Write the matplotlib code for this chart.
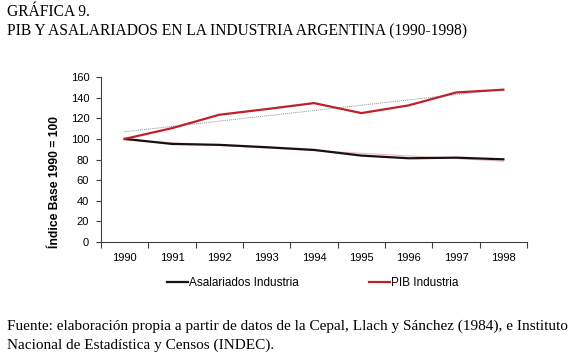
import numpy as np
import matplotlib.pyplot as plt

years = ['1990', '1991', '1992', '1993', '1994', '1995', '1996', '1997', '1998']
asalariados = [100, 95.1, 94.2, 91.9, 89.3, 83.8, 81.2, 81.8, 80.2]
pib = [100, 110.4, 123.4, 128.9, 134.7, 125.0, 132.5, 145.0, 147.7]

fig = plt.figure(figsize=(5.75, 3.56), dpi=100)
ax = fig.add_axes([0.1757, 0.3202, 0.7409, 0.4635])

x = np.arange(len(years))

# linear trend lines
t_pib = np.polyval(np.polyfit(x, pib, 1), x)
t_asa = np.polyval(np.polyfit(x, asalariados, 1), x)
ax.plot(x, t_pib, color='#909090', lw=0.7, ls=(0, (1, 1)))
ax.plot(x, t_asa, color='#e8b8bc', lw=0.8)

l1, = ax.plot(x, asalariados, color='#1a1010', lw=1.6)
l2, = ax.plot(x, pib, color='#c0202a', lw=1.6)

ax.set_xlim(-0.5, len(years) - 0.5)
ax.set_ylim(0, 160)
ax.set_yticks(range(0, 161, 20))
ax.set_xticks(x)
ax.set_xticklabels(years)
ax.set_xticks(np.arange(-0.5, len(years), 1), minor=True)
ax.tick_params(axis='x', which='major', length=0, pad=8)
ax.tick_params(axis='x', which='minor', length=4, width=0.8, color='#404040')
ax.tick_params(axis='y', length=3.5, width=0.8, color='#404040', pad=5)
for lab in ax.get_xticklabels() + ax.get_yticklabels():
    lab.set_fontfamily('Liberation Sans')
    lab.set_fontsize(8)

for s in ['top', 'right']:
    ax.spines[s].set_visible(False)
for s in ['left', 'bottom']:
    ax.spines[s].set_color('#404040')
    ax.spines[s].set_linewidth(0.8)

fig.text(55 / 575, 1 - 182 / 356, 'Índice Base 1990 = 100', rotation=90,
         fontfamily='Liberation Sans', fontsize=8.7, fontweight='bold',
         ha='center', va='center')

fig.legend([l1, l2], ['Asalariados Industria', 'PIB Industria'],
           loc='center left', bbox_to_anchor=(167 / 575, 1 - 283 / 356), ncol=2,
           frameon=False, borderpad=0, borderaxespad=0,
           handlelength=1.78, handletextpad=0.1, columnspacing=5.9,
           prop={'family': 'Liberation Sans', 'size': 8.5})

fig.text(0.012, 0.965, 'GRÁFICA 9.', fontfamily='Liberation Serif',
         fontsize=11.2, va='center', ha='left')
fig.text(0.012, 0.912, 'PIB Y ASALARIADOS EN LA INDUSTRIA ARGENTINA (1990-1998)',
         fontfamily='Liberation Serif', fontsize=11.2, va='center', ha='left')
fig.text(0.012, 0.084, 'Fuente: elaboración propia a partir de datos de la Cepal, Llach y Sánchez (1984), e Instituto',
         fontfamily='Liberation Serif', fontsize=11.0, va='center', ha='left')
fig.text(0.012, 0.030, 'Nacional de Estadística y Censos (INDEC).',
         fontfamily='Liberation Serif', fontsize=11.0, va='center', ha='left')

fig.savefig('out.png', dpi=100)
